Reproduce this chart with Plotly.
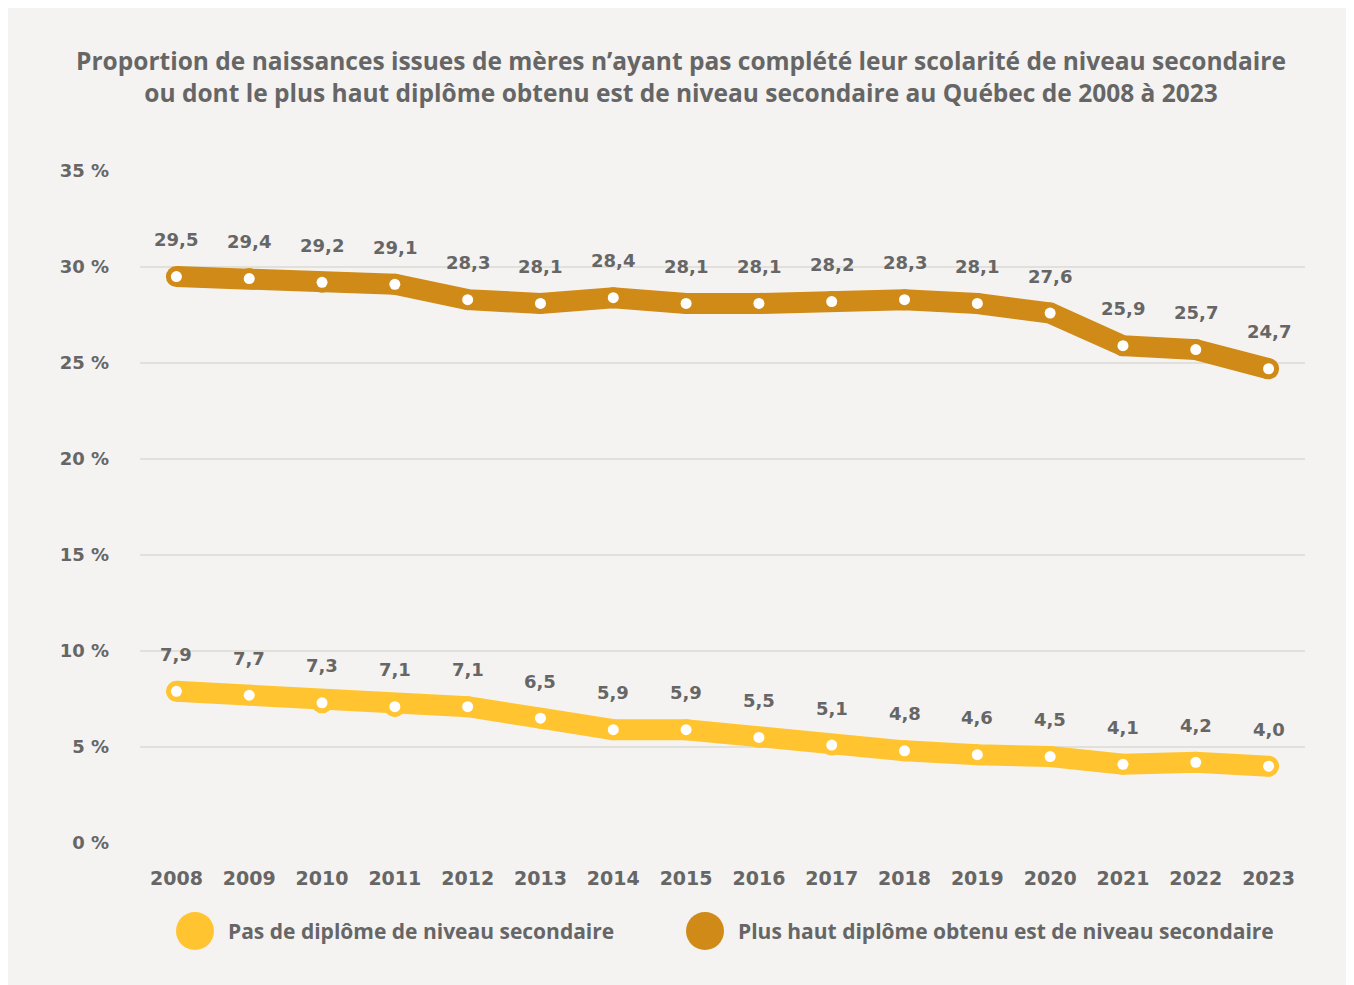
import plotly.graph_objects as go

years = list(range(2008, 2024))
pas_diplome = [7.9, 7.7, 7.3, 7.1, 7.1, 6.5, 5.9, 5.9, 5.5, 5.1, 4.8, 4.6, 4.5, 4.1, 4.2, 4.0]
secondaire = [29.5, 29.4, 29.2, 29.1, 28.3, 28.1, 28.4, 28.1, 28.1, 28.2, 28.3, 28.1, 27.6, 25.9, 25.7, 24.7]
series_names = ["Pas de diplôme de niveau secondaire",
                "Plus haut diplôme obtenu est de niveau secondaire"]
y_ticks = [0, 5, 10, 15, 20, 25, 30, 35]
title_text = ("Proportion de naissances issues de mères n’ayant pas complété leur scolarité de niveau secondaire<br>"
              "ou dont le plus haut diplôme obtenu est de niveau secondaire au Québec de 2008 à 2023")

YELLOW = "#ffc42f"
BROWN = "#cf8a17"
TXT = "#666666"
BG = "#f4f3f1"
FONT_T = "Open Sans"
FONT_N = "DejaVu Sans"

OFF = 8  # page body margin
W, H = 1354 - OFF, 985 - OFF
L, T = 140 - OFF, 171 - OFF
R = W - (1305 - OFF)
B = H - (843 - OFF)
pw, ph = W - L - R, H - T - B

fig = go.Figure()
for vals, col, name in [(secondaire, BROWN, series_names[1]), (pas_diplome, YELLOW, series_names[0])]:
    fig.add_trace(go.Scatter(x=years, y=vals, mode="lines+markers", name=name,
                             line=dict(color=col, width=21),
                             marker=dict(color=col, size=21, line=dict(width=0)),
                             showlegend=False, hoverinfo="skip"))
    fig.add_trace(go.Scatter(x=years, y=vals, mode="markers",
                             marker=dict(color="white", size=11, line=dict(width=0)),
                             showlegend=False, hoverinfo="skip"))
    for x, v in zip(years, vals):
        fig.add_annotation(x=x, y=v, text=f"{v:.1f}".replace(".", ","), showarrow=False,
                           yshift=37, font=dict(family=FONT_N, size=18, color=TXT, weight="bold"))


def px_to_paper(xp, yp):
    return (xp - OFF - L) / pw, 1 - (yp - OFF - T) / ph


for cx, col, tx, name in [(195, YELLOW, 226, series_names[0]), (705, BROWN, 736, series_names[1])]:
    px, py = px_to_paper(cx, 931)
    fig.add_shape(type="circle", xref="paper", yref="paper", xsizemode="pixel", ysizemode="pixel",
                  xanchor=px, yanchor=py, x0=-19, x1=19, y0=-19, y1=19,
                  fillcolor=col, line=dict(width=0))
    ax, ay = px_to_paper(tx, 931)
    fig.add_annotation(xref="paper", yref="paper", x=ax, y=ay, xanchor="left", yanchor="middle",
                       text=name, showarrow=False,
                       font=dict(family=FONT_T, size=21, color=TXT, weight="bold"))

fig.update_layout(
    width=W, height=H,
    margin=dict(l=L, r=R, t=T, b=B),
    paper_bgcolor=BG, plot_bgcolor="rgba(0,0,0,0)",
    title=dict(text=title_text, x=0.5, xref="container", xanchor="center",
               y=1 - (70 - OFF) / H, yref="container", yanchor="middle",
               font=dict(family=FONT_T, size=24.5, color=TXT, weight="bold")),
    xaxis=dict(range=[2007.5, 2023.5], tickvals=years, ticktext=[str(y) for y in years],
               showgrid=False, zeroline=False, showline=False, ticks="",
               tickfont=dict(family=FONT_N, size=19, color=TXT, weight="bold"),
               ticklabelstandoff=22),
    yaxis=dict(range=[0, 35], tickvals=y_ticks, ticktext=[f"{v} %" for v in y_ticks],
               showgrid=True, gridcolor="#e2e0da", gridwidth=1.5, zeroline=False,
               showline=False, ticks="",
               tickfont=dict(family=FONT_N, size=18, color=TXT, weight="bold"),
               ticklabelstandoff=30),
)

fig.write_html("out.html")
